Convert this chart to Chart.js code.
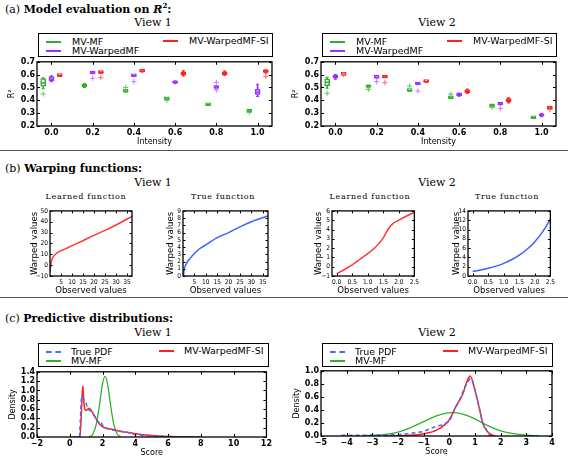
<!DOCTYPE html>
<html>
<head>
<meta charset="utf-8">
<script src="https://cdn.jsdelivr.net/npm/chart.js@4.4.1/dist/chart.umd.min.js"></script>
<style>
body { margin: 0; width: 568px; height: 458px; background: #fff; position: relative; overflow: hidden; font-family: "DejaVu Sans", sans-serif; }
.t { position: absolute; white-space: nowrap; color: #000; line-height: 1; }
.head { font-family: "DejaVu Serif", serif; font-size: 11px; }
.head sup { font-size: 7px; vertical-align: 5px; line-height: 0; }
.view { font-family: "DejaVu Serif", serif; font-size: 11px; transform: translateX(-50%); }
.sub { font-family: "DejaVu Serif", serif; font-size: 8px; letter-spacing: 0.7px; transform: translateX(-50%); }
.rule { position: absolute; left: 0; width: 568px; height: 1px; background: #555; }
.legend { position: absolute; border: 1px solid #000; box-sizing: border-box; overflow: hidden; background: #fff; z-index: 2; }
.legend span { position: absolute; font-size: 9.5px; line-height: 1; white-space: nowrap; }
.legend i { position: absolute; height: 0; border-top: 2px solid; }
canvas { position: absolute; }
</style>
</head>
<body>

<div class="t head" style="left:5px;top:4px">(a) <b>Model evaluation on <i>R</i><sup>2</sup>:</b></div>
<div class="t view" style="left:153px;top:17px">View 1</div>
<div class="t view" style="left:437px;top:17px">View 2</div>
<div class="rule" style="top:150px"></div>

<div class="t head" style="left:5px;top:163px">(b) <b>Warping functions:</b></div>
<div class="t view" style="left:153px;top:177px">View 1</div>
<div class="t view" style="left:437px;top:177px">View 2</div>
<div class="t sub" style="left:86px;top:193px">Learned function</div>
<div class="t sub" style="left:223px;top:193px">True function</div>
<div class="t sub" style="left:370px;top:193px">Learned function</div>
<div class="t sub" style="left:507px;top:193px">True function</div>
<div class="rule" style="top:297px"></div>

<div class="t head" style="left:5px;top:313px">(c) <b>Predictive distributions:</b></div>
<div class="t view" style="left:153px;top:327px">View 1</div>
<div class="t view" style="left:437px;top:327px">View 2</div>

<div class="legend" style="left:38px;top:33px;width:235px;height:24px">
  <i style="left:7px;top:7px;width:15px;border-color:#30b030"></i><span style="left:33px;top:3px">MV-MF</span>
  <i style="left:7px;top:16px;width:15px;border-color:#9b30ff"></i><span style="left:33px;top:12px">MV-WarpedMF</span>
  <i style="left:124px;top:6px;width:15px;border-color:#ff2020"></i><span style="left:150px;top:2px">MV-WarpedMF-SI</span>
</div>
<div class="legend" style="left:322px;top:33px;width:235px;height:24px">
  <i style="left:7px;top:7px;width:15px;border-color:#30b030"></i><span style="left:33px;top:3px">MV-MF</span>
  <i style="left:7px;top:16px;width:15px;border-color:#9b30ff"></i><span style="left:33px;top:12px">MV-WarpedMF</span>
  <i style="left:124px;top:6px;width:15px;border-color:#ff2020"></i><span style="left:150px;top:2px">MV-WarpedMF-SI</span>
</div>
<div class="legend" style="left:38px;top:343px;width:231px;height:24px">
  <i style="left:7px;top:7px;width:15px;border-top-style:dashed;border-color:#4a6cf0"></i><span style="left:32px;top:3px">True PDF</span>
  <i style="left:7px;top:16px;width:15px;border-color:#30b030"></i><span style="left:32px;top:12px">MV-MF</span>
  <i style="left:120px;top:6px;width:15px;border-color:#ff2020"></i><span style="left:145px;top:2px">MV-WarpedMF-SI</span>
</div>
<div class="legend" style="left:322px;top:343px;width:231px;height:24px">
  <i style="left:7px;top:7px;width:15px;border-top-style:dashed;border-color:#4a6cf0"></i><span style="left:32px;top:3px">True PDF</span>
  <i style="left:7px;top:16px;width:15px;border-color:#30b030"></i><span style="left:32px;top:12px">MV-MF</span>
  <i style="left:120px;top:6px;width:15px;border-color:#ff2020"></i><span style="left:145px;top:2px">MV-WarpedMF-SI</span>
</div>

<script>
// ---- (a) R^2 box plots, each box = [whiskerLow, q1, median, q3, whiskerHigh]
const intensity = [0, 0.2, 0.4, 0.6, 0.8, 1.0];
const r2Ticks = [0.2, 0.3, 0.4, 0.5, 0.6, 0.7];

const mfV1 = [[0.49, 0.51, 0.535, 0.57, 0.575], [0.50, 0.505, 0.515, 0.525, 0.53], [0.465, 0.466, 0.468, 0.471, 0.472],
              [0.405, 0.407, 0.411, 0.415, 0.417], [0.36, 0.361, 0.363, 0.365, 0.366], [0.312, 0.313, 0.316, 0.319, 0.32]];
const mfV1Out = [[0.45], [], [0.50], [0.40], [], [0.305]];
const warpV1 = [[0.545, 0.553, 0.567, 0.585, 0.59], [0.607, 0.608, 0.611, 0.613, 0.614], [0.586, 0.587, 0.59, 0.592, 0.593],
                [0.53, 0.533, 0.54, 0.546, 0.55], [0.492, 0.495, 0.50, 0.507, 0.51], [0.43, 0.445, 0.465, 0.485, 0.525]];
const warpV1Out = [[], [0.572], [0.545], [], [0.54, 0.48], []];
const siV1 = [[0.586, 0.588, 0.59, 0.593, 0.595], [0.61, 0.612, 0.615, 0.618, 0.62], [0.622, 0.623, 0.625, 0.627, 0.628],
              [0.59, 0.597, 0.607, 0.622, 0.63], [0.595, 0.60, 0.61, 0.622, 0.628], [0.613, 0.618, 0.625, 0.632, 0.638]];
const siV1Out = [[], [0.577], [], [], [], [0.585]];

const mfV2 = [[0.495, 0.515, 0.54, 0.568, 0.58], [0.498, 0.502, 0.507, 0.513, 0.517], [0.471, 0.472, 0.474, 0.476, 0.477],
              [0.413, 0.415, 0.418, 0.421, 0.423], [0.35, 0.353, 0.358, 0.364, 0.367], [0.258, 0.26, 0.262, 0.264, 0.266]];
const mfV2Out = [[0.455], [0.485], [0.511], [0.448], [0.345], []];
const warpV2 = [[0.565, 0.573, 0.585, 0.597, 0.602], [0.574, 0.575, 0.577, 0.579, 0.58], [0.522, 0.523, 0.525, 0.527, 0.528],
                [0.432, 0.437, 0.444, 0.452, 0.456], [0.365, 0.366, 0.369, 0.372, 0.373], [0.272, 0.276, 0.285, 0.293, 0.298]];
const warpV2Out = [[], [0.545], [0.473], [], [0.337], []];
const siV2 = [[0.597, 0.598, 0.60, 0.602, 0.603], [0.576, 0.577, 0.579, 0.581, 0.582], [0.541, 0.542, 0.544, 0.546, 0.547],
              [0.455, 0.46, 0.47, 0.482, 0.487], [0.38, 0.388, 0.40, 0.414, 0.42], [0.33, 0.335, 0.34, 0.346, 0.35]];
const siV2Out = [[0.60], [0.537], [], [], [], [0.328]];

// ---- (b) warping functions
const obsTicksV1 = [5, 10, 15, 20, 25, 30, 35];
const learnTicksV1 = [-10, 0, 10, 20, 30, 40, 50];
const trueTicksV1 = [0, 1, 2, 3, 4, 5, 6, 7, 8, 9];
const learnXV1 = [0.05, 0.2, 0.5, 1, 2, 3, 4, 5, 6, 7, 8, 10, 15, 20, 25, 30, 37.3];
const learnYV1 = [-6, -2, 2, 6, 9, 11, 12.3, 13.3, 14.2, 15, 16, 18, 22.5, 27.5, 32, 37, 45];
const trueXV1 = [0.2, 0.5, 1, 2, 3, 5, 7, 10, 15, 20, 25, 30, 37.3];
const trueYV1 = [0, 0.9, 1.4, 2.0, 2.4, 3.1, 3.7, 4.3, 5.3, 6.0, 6.8, 7.5, 8.3];

const obsTicksV2 = [0, 0.5, 1.0, 1.5, 2.0, 2.5];
const learnTicksV2 = [-1, 0, 1, 2, 3, 4, 5, 6];
const trueTicksV2 = [0, 2, 4, 6, 8, 10, 12, 14];
const learnXV2 = [0, 0.25, 0.5, 0.75, 1.0, 1.25, 1.5, 1.65, 1.8, 2.0, 2.25, 2.5];
const learnYV2 = [-0.75, -0.3, 0.2, 0.8, 1.4, 2.1, 3.1, 4.0, 4.6, 5.0, 5.45, 5.85];
const trueXV2 = [0, 0.25, 0.5, 0.75, 1.0, 1.25, 1.5, 1.75, 2.0, 2.25, 2.5];
const trueYV2 = [1.0, 1.28, 1.65, 2.12, 2.72, 3.49, 4.48, 5.75, 7.39, 9.49, 12.18];

// ---- (c) predictive distributions
const scoreTicksV1 = [-2, 0, 2, 4, 6, 8, 10, 12];
const densTicksV1 = [0, 0.2, 0.4, 0.6, 0.8, 1.0, 1.2, 1.4];
const siXV1 = [0, 0.5, 0.62, 0.68, 0.74, 0.8, 0.86, 0.92, 1.0, 1.1, 1.2, 1.3, 1.5, 1.7, 1.9, 2.1, 2.5, 3.0, 3.5, 4.0, 4.5, 5.0, 6.0, 7.0, 8.0];
const siYV1 = [0, 0, 0.02, 0.3, 0.8, 1.1, 0.75, 0.6, 0.57, 0.6, 0.62, 0.57, 0.46, 0.33, 0.25, 0.2, 0.17, 0.13, 0.1, 0.07, 0.05, 0.03, 0.01, 0.005, 0];
const mfXV1 = [1.2, 1.4, 1.6, 1.8, 2.0, 2.15, 2.3, 2.5, 2.7, 2.9, 3.1];
const mfYV1 = [0, 0.06, 0.25, 0.66, 1.15, 1.3, 1.15, 0.66, 0.25, 0.06, 0.01];
const pdfXV1 = [0.6, 0.65, 0.7, 0.8, 0.9, 1.0, 1.1, 1.3, 1.5, 1.8, 1.9, 2.0, 2.2, 2.5, 3.0, 3.5, 4.0, 5.0, 6.0, 8.0];
const pdfYV1 = [0, 0.4, 0.8, 0.88, 0.75, 0.72, 0.6, 0.55, 0.45, 0.3, 0.33, 0.25, 0.2, 0.15, 0.13, 0.1, 0.05, 0.02, 0.01, 0];

const scoreTicksV2 = [-5, -4, -3, -2, -1, 0, 1, 2, 3, 4];
const densTicksV2 = [0, 0.2, 0.4, 0.6, 0.8, 1.0];
const siXV2 = [-2.5, -1.5, -1.0, -0.5, 0, 0.25, 0.5, 0.7, 0.81, 1.0, 1.2, 1.3, 1.5, 1.7, 1.8];
const siYV2 = [0, 0.01, 0.035, 0.09, 0.25, 0.45, 0.62, 0.85, 0.92, 0.7, 0.37, 0.2, 0.06, 0.01, 0];
const mfXV2 = [-3.4, -3.0, -2.5, -2.0, -1.5, -1.0, -0.5, 0.1, 0.5, 1.0, 1.5, 2.0, 2.5, 3.0, 3.5];
const mfYV2 = [0, 0.01, 0.025, 0.06, 0.13, 0.22, 0.31, 0.36, 0.34, 0.26, 0.16, 0.08, 0.035, 0.012, 0.003];
const pdfXV2 = [-4.2, -3.8, -2.0, -1.5, -1.0, -0.7, -0.5, -0.3, 0, 0.2, 0.4, 0.6, 0.8, 0.9, 1.0, 1.2, 1.3, 1.5, 1.6];
const pdfYV2 = [0.01, 0.01, 0.02, 0.04, 0.07, 0.12, 0.15, 0.17, 0.22, 0.4, 0.55, 0.75, 0.88, 0.85, 0.7, 0.38, 0.2, 0.05, 0];

const GREEN = '#30b030', PURPLE = '#9b30ff', RED = '#ff2020', BLUE = '#4a6cf0';

Chart.defaults.animation = false;
Chart.defaults.responsive = false;
Chart.defaults.devicePixelRatio = 1;
Chart.defaults.plugins.legend.display = false;
Chart.defaults.plugins.tooltip.enabled = false;
Chart.defaults.color = '#000';

// box frame + inward ticks on all four sides, like matplotlib
const frame = {
    id: 'frame',
    afterDraw(chart, args, opts) {
        const { ctx, chartArea: a, scales } = chart;
        const len = opts.len || 3;
        ctx.save();
        ctx.strokeStyle = '#000';
        ctx.lineWidth = 1;
        ctx.beginPath();
        scales.x.ticks.forEach((t, i) => {
            const p = Math.round(scales.x.getPixelForTick(i)) + 0.5;
            ctx.moveTo(p, a.bottom); ctx.lineTo(p, a.bottom - len);
            ctx.moveTo(p, a.top); ctx.lineTo(p, a.top + len);
        });
        scales.y.ticks.forEach((t, i) => {
            const p = Math.round(scales.y.getPixelForTick(i)) + 0.5;
            ctx.moveTo(a.left, p); ctx.lineTo(a.left + len, p);
            ctx.moveTo(a.right, p); ctx.lineTo(a.right - len, p);
        });
        ctx.stroke();
        ctx.lineWidth = 1.3;
        ctx.strokeRect(a.left, a.top, a.right - a.left, a.bottom - a.top);
        ctx.restore();
    }
};

function chartAt(area, pad, config) {
    const [l, t, r, b] = area;
    const c = document.createElement('canvas');
    const x0 = l - pad.yw, y0 = t - pad.pt;
    c.width = r + pad.pr - x0;
    c.height = b + pad.xh - y0;
    c.style.left = x0 + 'px';
    c.style.top = y0 + 'px';
    document.body.insertBefore(c, document.body.firstChild);
    config.options.layout = { padding: { top: pad.pt, right: pad.pr, left: 0, bottom: 0 } };
    config.options.scales.x.afterFit = s => { s.height = pad.xh; };
    config.options.scales.y.afterFit = s => { s.width = pad.yw; };
    config.plugins = [frame];
    return new Chart(c, config);
}

function axis(min, max, ticks, fmt, font, title, titleFont, titlePad) {
    return {
        type: 'linear', min: min, max: max, offset: false,
        grid: { display: false, drawTicks: false, tickLength: 0 }, border: { display: false },
        afterBuildTicks: s => { s.ticks = ticks.map(v => ({ value: v })); },
        ticks: { font: font, padding: 2, maxRotation: 0, autoSkip: false,
                 callback: v => fmt(v).replace('-', '\u2212') },
        title: { display: true, text: title, font: titleFont, padding: titlePad || 0 }
    };
}

// ---------- (a) box plots
function boxSets(boxes, outs, off, color, light) {
    const xs = intensity.map(v => v + off);
    return [
        { type: 'scatter', order: 0, data: outs.flatMap((o, i) => o.map(y => ({ x: xs[i], y: y }))),
          pointStyle: 'cross', pointRadius: 2.6, borderColor: light, borderWidth: 1 },
        { type: 'scatter', order: 1, data: boxes.map((b, i) => ({ x: xs[i], y: b[2] })),
          pointStyle: 'line', pointRadius: 2.5, borderColor: color, borderWidth: 1.5 },
        { type: 'scatter', order: 1, data: boxes.flatMap((b, i) => [{ x: xs[i], y: b[0] }, { x: xs[i], y: b[4] }]),
          pointStyle: 'line', pointRadius: 1.5, borderColor: color, borderWidth: 1 },
        { type: 'bar', order: 2, grouped: false, data: boxes.map((b, i) => ({ x: xs[i], y: [b[1], b[3]] })),
          barThickness: 5, minBarLength: 2.5, backgroundColor: '#fff', borderColor: color,
          borderWidth: 1.5, borderSkipped: false },
        { type: 'bar', order: 3, grouped: false, data: boxes.map((b, i) => ({ x: xs[i], y: [b[0], b[4]] })),
          barThickness: 1, backgroundColor: color, borderWidth: 0 }
    ];
}

const tickA = { family: 'DejaVu Sans', size: 8, weight: 'bold' };
const titleA = { family: 'DejaVu Sans', size: 8 };

function r2Chart(area, mf, mfOut, warp, warpOut, si, siOut) {
    chartAt(area, { yw: 37, xh: 21, pt: 6, pr: 6 }, {
        type: 'bar',
        data: { datasets: [
            ...boxSets(mf, mfOut, -0.04, GREEN, '#5ec85e'),
            ...boxSets(warp, warpOut, 0, PURPLE, '#c080ff'),
            ...boxSets(si, siOut, 0.04, RED, '#ff6a6a')
        ] },
        options: { scales: {
            x: axis(-0.07, 1.07, intensity, v => v.toFixed(1), tickA, 'Intensity', titleA),
            y: axis(0.2, 0.7, r2Ticks, v => v.toFixed(1), tickA, 'R\u00b2', titleA, { top: 7 })
        }, plugins: { frame: { len: 3 } } }
    });
}
r2Chart([37, 61, 272, 126], mfV1, mfV1Out, warpV1, warpV1Out, siV1, siV1Out);
r2Chart([321, 61, 556, 126], mfV2, mfV2Out, warpV2, warpV2Out, siV2, siV2Out);

// ---------- (b) warping functions
const narrow = '"Liberation Sans Narrow", "DejaVu Sans Condensed", sans-serif';
const tickB = { family: narrow, size: 6.5 };
const titleB = { family: narrow, size: 9.5 };

function warpChart(area, xs, ys, color, xMin, xMax, xTicks, xFmt, yMin, yMax, yTicks, yTitlePad) {
    chartAt(area, { yw: 30, xh: 20, pt: 5, pr: 6 }, {
        type: 'scatter',
        data: { datasets: [{ data: xs.map((x, i) => ({ x: x, y: ys[i] })), showLine: true,
            cubicInterpolationMode: 'monotone', borderColor: color, borderWidth: 1.5, pointRadius: 0 }] },
        options: { scales: {
            x: axis(xMin, xMax, xTicks, xFmt, tickB, 'Observed values', titleB),
            y: axis(yMin, yMax, yTicks, v => String(v), tickB, 'Warped values', titleB, { top: yTitlePad })
        }, plugins: { frame: { len: 2.5 } } }
    });
}
warpChart([50, 210, 132, 276], learnXV1, learnYV1, '#ff3838', 0, 37.3, obsTicksV1, v => String(v), -10, 50, learnTicksV1, 9);
warpChart([183, 210, 268, 276], trueXV1, trueYV1, '#3a62ff', 0, 37.3, obsTicksV1, v => String(v), 0, 9, trueTicksV1, 12);
warpChart([332, 210, 415, 276], learnXV2, learnYV2, '#ff3838', -0.15, 2.5, obsTicksV2, v => v.toFixed(1), -1, 6, learnTicksV2, 11);
warpChart([468, 210, 551, 276], trueXV2, trueYV2, '#3a62ff', -0.15, 2.5, obsTicksV2, v => v.toFixed(1), 0, 14, trueTicksV2, 13);

// ---------- (c) predictive distributions
const titleC = { family: 'DejaVu Sans', size: 8 };

function pdfChart(area, pdfX, pdfY, mfX, mfY, siX, siY, xMin, xMax, xTicks, yMax, yTicks) {
    const line = (xs, ys) => xs.map((x, i) => ({ x: x, y: ys[i] }));
    chartAt(area, { yw: 37, xh: 21, pt: 6, pr: 6 }, {
        type: 'scatter',
        data: { datasets: [
            { data: line(pdfX, pdfY), showLine: true, borderColor: BLUE, borderWidth: 1.5,
              borderDash: [4, 3], pointRadius: 0 },
            { data: line(siX, siY), showLine: true, cubicInterpolationMode: 'monotone',
              borderColor: RED, borderWidth: 1.5, pointRadius: 0 },
            { data: line(mfX, mfY), showLine: true, cubicInterpolationMode: 'monotone',
              borderColor: GREEN, borderWidth: 1.3, pointRadius: 0 }
        ] },
        options: { scales: {
            x: axis(xMin, xMax, xTicks, v => String(v), tickA, 'Score', titleC),
            y: axis(0, yMax, yTicks, v => v.toFixed(1), tickA, 'Density', titleC, { top: 8.5 })
        }, plugins: { frame: { len: 3 } } }
    });
}
pdfChart([37, 371, 268, 437], pdfXV1, pdfYV1, mfXV1, mfYV1, siXV1, siYV1, -2, 12, scoreTicksV1, 1.4, densTicksV1);
pdfChart([321, 370, 552, 436], pdfXV2, pdfYV2, mfXV2, mfYV2, siXV2, siYV2, -5, 4, scoreTicksV2, 1.0, densTicksV2);
</script>
</body>
</html>
